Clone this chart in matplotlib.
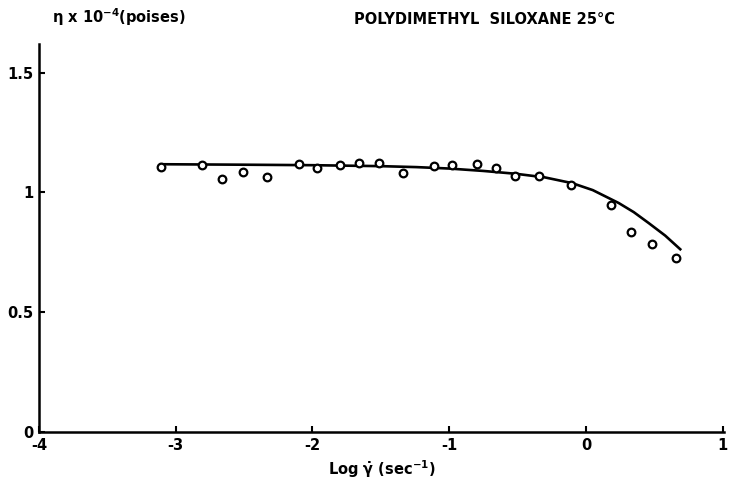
import matplotlib
matplotlib.use("Agg")
import matplotlib.pyplot as plt

plt.rcParams["mathtext.default"] = "bf"

# Measured data points (log shear rate, viscosity x 1e-4 poises)
log_rate = [-3.11, -2.81, -2.66, -2.51, -2.33, -2.10, -1.97, -1.80, -1.66, -1.51,
            -1.34, -1.11, -0.98, -0.80, -0.66, -0.52, -0.34, -0.11, 0.18, 0.33,
            0.48, 0.66]
viscosity = [1.106, 1.113, 1.058, 1.084, 1.063, 1.121, 1.103, 1.116, 1.123, 1.125,
             1.082, 1.109, 1.116, 1.117, 1.102, 1.068, 1.070, 1.031, 0.946, 0.833,
             0.784, 0.727]

# Fitted curve
curve_x = [-3.11, -2.5, -2.0, -1.5, -1.24, -1.0, -0.75, -0.51, -0.3, -0.10,
           0.05, 0.24, 0.35, 0.46, 0.58, 0.69]
curve_y = [1.118, 1.116, 1.114, 1.110, 1.106, 1.100, 1.090, 1.078, 1.063, 1.039,
           1.010, 0.956, 0.918, 0.872, 0.820, 0.763]

x_ticks = [-4, -3, -2, -1, 0, 1]
x_ticklabels = ["-4", "-3", "-2", "-1", "0", "1"]
y_ticks = [0, 0.5, 1, 1.5]
y_ticklabels = ["0", "0.5", "1", "1.5"]

fig = plt.figure(figsize=(7.31, 4.79), dpi=100)
ax = fig.add_axes([39 / 731, 47 / 479, (724 - 39) / 731, (432 - 44) / 479])

ax.plot(curve_x, curve_y, color="black", lw=1.9, zorder=2)
ax.plot(log_rate, viscosity, linestyle="none", marker="o", ms=5.5,
        mfc="white", mec="black", mew=1.6, zorder=3)

ax.set_xlim(-4, 1.01)
ax.set_ylim(0, 1.62)
ax.spines["top"].set_visible(False)
ax.spines["right"].set_visible(False)
ax.spines["left"].set_linewidth(1.8)
ax.spines["bottom"].set_linewidth(1.8)

ax.set_xticks(x_ticks)
ax.set_xticklabels(x_ticklabels, fontsize=10.5, fontweight="bold")
ax.set_yticks(y_ticks)
ax.set_yticklabels(y_ticklabels, fontsize=10.5, fontweight="bold")
ax.tick_params(direction="in", length=4, width=1.5, pad=4)

ax.set_xlabel(r"Log $\dot{\gamma}$ (sec$^{-1}$)", fontsize=10.5,
              fontweight="bold", labelpad=4)

fig.text(52 / 731, 1 - 17 / 479, r"$\eta$ x 10$^{-4}$(poises)", fontsize=10.5,
         fontweight="bold", ha="left", va="center")
fig.text(485 / 731, 1 - 19 / 479, "POLYDIMETHYL  SILOXANE 25°C", fontsize=10.5,
         fontweight="bold", ha="center", va="center")

fig.savefig("out.png", dpi=100)
